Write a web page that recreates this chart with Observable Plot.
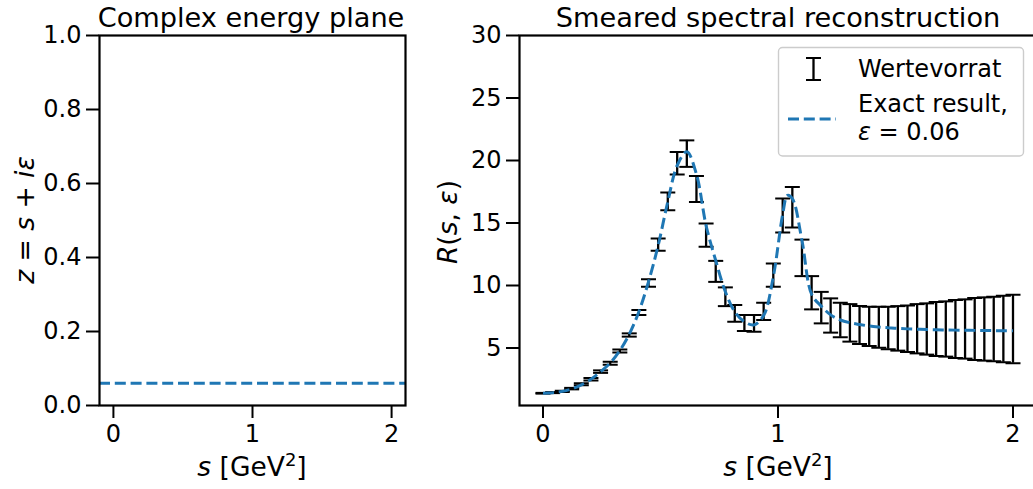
<!DOCTYPE html>
<html>
<head>
<meta charset="utf-8">
<script src="https://cdn.jsdelivr.net/npm/d3@7"></script>
<script src="https://cdn.jsdelivr.net/npm/@observablehq/plot@0.6"></script>
<style>
  html, body { margin: 0; padding: 0; background: #fff; overflow: hidden; }
  #wrap { position: relative; width: 1033px; height: 489px; overflow: hidden; background: #fff; }
  #wrap svg { position: absolute; top: 0; overflow: visible; }
</style>
</head>
<body>
<div id="wrap"></div>
<script>
// ---------- data ----------
const sValues = [0, 0.041, 0.082, 0.122, 0.163, 0.204, 0.245, 0.286, 0.327, 0.367,
  0.408, 0.449, 0.49, 0.531, 0.571, 0.612, 0.653, 0.694, 0.735, 0.776,
  0.816, 0.857, 0.898, 0.939, 0.98, 1.02, 1.061, 1.102, 1.143, 1.184,
  1.224, 1.265, 1.306, 1.347, 1.388, 1.429, 1.469, 1.51, 1.551, 1.592,
  1.633, 1.673, 1.714, 1.755, 1.796, 1.837, 1.878, 1.918, 1.959, 2.0];
const reconValues = [1.38, 1.43, 1.53, 1.75, 2.1, 2.5, 3.11, 3.78, 4.76, 6.04,
  7.84, 10.2, 13.27, 16.73, 19.78, 20.55, 17.72, 14.03, 11.13, 9.1,
  7.77, 7.0, 6.97, 7.93, 10.83, 15.6, 16.26, 12.21, 9.42, 8.23,
  7.6, 7.24, 7.01, 6.84, 6.73, 6.66, 6.6, 6.57, 6.54, 6.54,
  6.52, 6.52, 6.52, 6.52, 6.52, 6.52, 6.52, 6.52, 6.52, 6.52];
const reconErrors = [0.03, 0.04, 0.05, 0.06, 0.08, 0.1, 0.1, 0.12, 0.12, 0.13,
  0.2, 0.3, 0.49, 0.71, 0.9, 1.06, 1.04, 0.93, 0.84, 0.75,
  0.67, 0.64, 0.67, 0.69, 0.93, 1.36, 1.62, 1.46, 1.33, 1.26,
  1.37, 1.38, 1.5, 1.52, 1.57, 1.64, 1.7, 1.78, 1.86, 1.97,
  2.05, 2.16, 2.21, 2.32, 2.37, 2.48, 2.53, 2.58, 2.66, 2.74];
const exactS = [0, 0.041, 0.082, 0.122, 0.163, 0.204, 0.245, 0.286, 0.327, 0.367,
  0.408, 0.449, 0.49, 0.531, 0.571, 0.612, 0.653, 0.694, 0.735, 0.776,
  0.816, 0.857, 0.898, 0.939, 0.98, 1.02, 1.04, 1.061, 1.102, 1.143, 1.184,
  1.224, 1.265, 1.306, 1.347, 1.388, 1.429, 1.469, 1.51, 1.551, 1.592,
  1.633, 1.673, 1.714, 1.755, 1.796, 1.837, 1.878, 1.918, 1.959, 2.0];
const exactR = [1.38, 1.42, 1.53, 1.73, 2.05, 2.5, 3.1, 3.8, 4.8, 6.1,
  7.9, 10.3, 13.2, 16.7, 19.6, 20.7, 18.9, 14.8, 12.0, 9.5,
  7.9, 7.1, 6.85, 7.6, 10.7, 15.7, 17.2, 16.95, 13.6, 9.3, 8.35,
  7.65, 7.24, 7.02, 6.88, 6.76, 6.68, 6.62, 6.57, 6.53, 6.5,
  6.48, 6.46, 6.44, 6.43, 6.42, 6.41, 6.4, 6.39, 6.38, 6.38];
const epsilon = 0.06;
const xTicks = [0, 1, 2];
const leftYTicks = [0, 0.2, 0.4, 0.6, 0.8, 1.0];
const rightYTicks = [5, 10, 15, 20, 25, 30];
const titles = ["Complex energy plane", "Smeared spectral reconstruction"];
const legendLabels = ["Wertevorrat", "Exact result,"];

// ---------- helpers ----------
const BLUE = "#1f77b4";
const FONT = "DejaVu Sans";
const DASH = "11,4.8";
const LW = 3;
const capSymbol = {
  draw(context, size) {
    const r = Math.sqrt(size / Math.PI);
    context.moveTo(-r, 0);
    context.lineTo(r, 0);
  }
};
function addText(svg, {x, y, size, anchor = "middle", rotate = 0, parts}) {
  const t = d3.select(svg).append("text")
    .attr("transform", `translate(${x},${y})` + (rotate ? ` rotate(${rotate})` : ""))
    .attr("text-anchor", anchor)
    .attr("font-size", size)
    .attr("font-family", FONT)
    .attr("fill", "#000");
  for (const p of parts) {
    const ts = t.append("tspan").text(p.t);
    if (p.i) ts.attr("font-style", "italic");
    if (p.dy != null) ts.attr("dy", p.dy);
    if (p.fs) ts.attr("font-size", p.fs);
  }
  return t;
}
const common = {
  height: 489,
  marginTop: 35,
  marginBottom: 84,
  style: {fontFamily: FONT, fontSize: "24px", color: "#000", background: "transparent", overflow: "visible"}
};

// ---------- left panel ----------
const left = Plot.plot({
  ...common,
  width: 420,
  marginLeft: 99,
  marginRight: 15,
  x: {domain: [-0.1, 2.1]},
  y: {domain: [0, 1]},
  marks: [
    Plot.ruleY([epsilon], {stroke: BLUE, strokeWidth: LW, strokeDasharray: DASH, strokeLinecap: "butt"}),
    Plot.frame({stroke: "#000", strokeWidth: 2.2}),
    Plot.axisX({ticks: xTicks, tickSize: 13, tickPadding: 6, strokeWidth: 2, label: null, tickFormat: d3.format("d")}),
    Plot.axisY({ticks: leftYTicks, tickSize: 13, tickPadding: 5, strokeWidth: 2, label: null, tickFormat: d3.format(".1f")})
  ]
});
left.style.left = "0px";
document.getElementById("wrap").appendChild(left);

// ---------- right panel ----------
const bars = sValues.map((s, i) => ({s, lo: reconValues[i] - reconErrors[i], hi: reconValues[i] + reconErrors[i]}));
const exact = exactS.map((s, i) => ({s, r: exactR[i]}));

const right = Plot.plot({
  ...common,
  width: 630,
  marginLeft: 99,
  marginRight: 14,
  x: {domain: [-0.1, 2.1]},
  y: {domain: [0.4, 30]},
  marks: [
    Plot.ruleX(bars, {x: "s", y1: "lo", y2: "hi", stroke: "#000", strokeWidth: 2.3}),
    Plot.dot(bars, {x: "s", y: "lo", r: 7.5, symbol: capSymbol, stroke: "#000", strokeWidth: 2, fill: "none"}),
    Plot.dot(bars, {x: "s", y: "hi", r: 7.5, symbol: capSymbol, stroke: "#000", strokeWidth: 2, fill: "none"}),
    Plot.line(exact, {x: "s", y: "r", stroke: BLUE, strokeWidth: LW, strokeDasharray: DASH,
      strokeLinecap: "butt", strokeLinejoin: "miter", curve: "catmull-rom"}),
    Plot.frame({stroke: "#000", strokeWidth: 2.2}),
    Plot.axisX({ticks: xTicks, tickSize: 13, tickPadding: 6, strokeWidth: 2, label: null, tickFormat: d3.format("d")}),
    Plot.axisY({ticks: rightYTicks, tickSize: 13, tickPadding: 5, strokeWidth: 2, label: null, tickFormat: d3.format("d")})
  ]
});
right.style.left = "420px";
document.getElementById("wrap").appendChild(right);

// ---------- titles & axis labels ----------
addText(left, {x: 251, y: 26.5, size: 27.2, parts: [{t: titles[0]}]});
addText(right, {x: 358, y: 26.5, size: 27.2, parts: [{t: titles[1]}]});

const xLabelParts = [{t: "s", i: true}, {t: " [GeV"}, {t: "2", fs: 18, dy: -10}, {t: "]", dy: 10}];
addText(left, {x: 252, y: 476, size: 26.5, parts: xLabelParts});
addText(right, {x: 358, y: 476, size: 26.5, parts: xLabelParts});

addText(left, {x: 34, y: 220, size: 26.5, rotate: -90,
  parts: [{t: "z", i: true}, {t: " = "}, {t: "s", i: true}, {t: " + "}, {t: "iε", i: true}]});
addText(right, {x: 36.5, y: 222, size: 26.5, rotate: -90,
  parts: [{t: "R", i: true}, {t: "("}, {t: "s", i: true}, {t: ", "}, {t: "ε", i: true}, {t: ")"}]});

// ---------- legend ----------
const lg = d3.select(right).append("g");
lg.append("rect").attr("x", 358.5).attr("y", 47.5).attr("width", 245).attr("height", 108.5)
  .attr("rx", 4).attr("fill", "#fff").attr("fill-opacity", 0.8)
  .attr("stroke", "#cccccc").attr("stroke-width", 1.4);
// errorbar handle
lg.append("line").attr("x1", 393.5).attr("x2", 393.5).attr("y1", 58).attr("y2", 80).attr("stroke", "#000").attr("stroke-width", 2.3);
lg.append("line").attr("x1", 386).attr("x2", 401).attr("y1", 58).attr("y2", 58).attr("stroke", "#000").attr("stroke-width", 2);
lg.append("line").attr("x1", 386).attr("x2", 401).attr("y1", 80).attr("y2", 80).attr("stroke", "#000").attr("stroke-width", 2);
// dashed handle
lg.append("line").attr("x1", 368).attr("x2", 416).attr("y1", 119).attr("y2", 119)
  .attr("stroke", BLUE).attr("stroke-width", LW).attr("stroke-dasharray", DASH);
addText(right, {x: 438, y: 77, size: 24, anchor: "start", parts: [{t: legendLabels[0]}]});
addText(right, {x: 438, y: 112, size: 24, anchor: "start", parts: [{t: legendLabels[1]}]});
addText(right, {x: 438, y: 140, size: 24, anchor: "start", parts: [{t: "ε", i: true}, {t: " = " + epsilon.toFixed(2)}]});
</script>
</body>
</html>
